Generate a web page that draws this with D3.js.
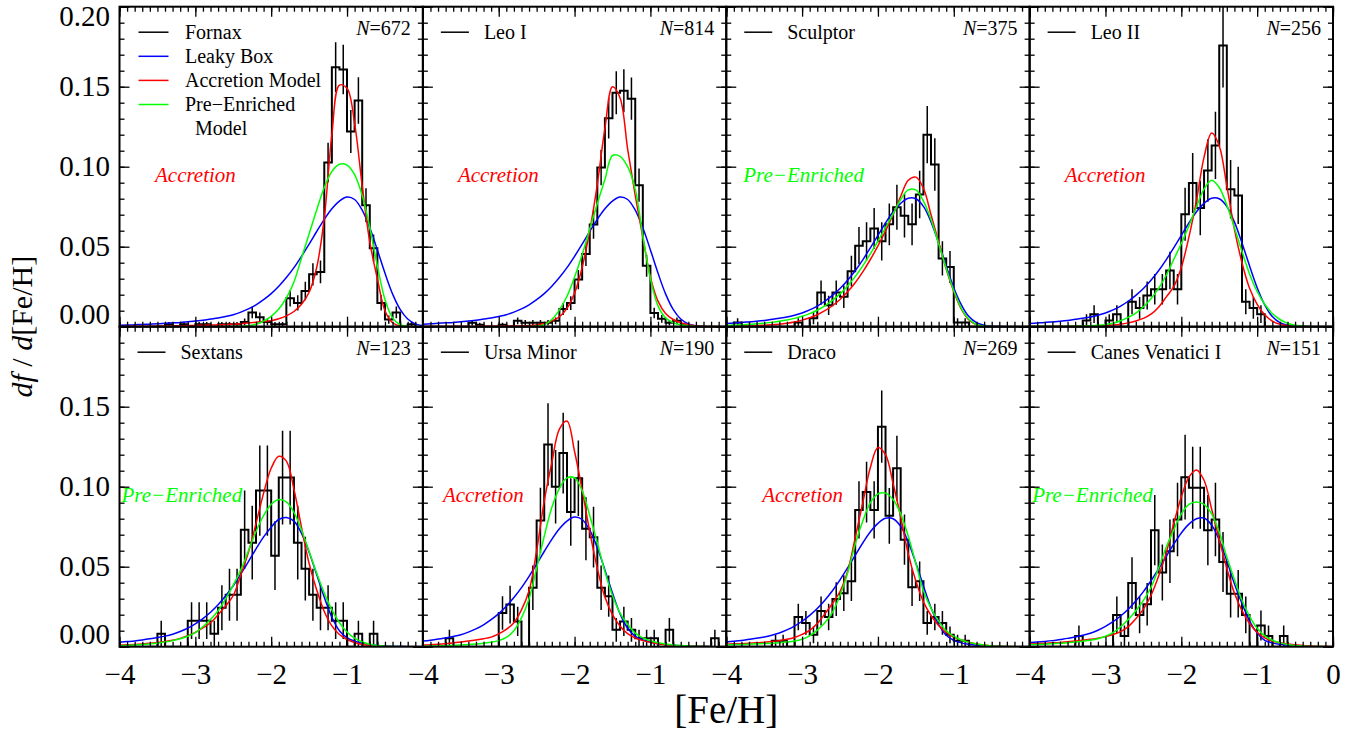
<!DOCTYPE html>
<html>
<head>
<meta charset="utf-8">
<script src="https://cdn.jsdelivr.net/npm/d3@7"></script>
<style>
  html, body { margin: 0; padding: 0; background: #ffffff; }
  svg { display: block; }
  text { font-family: "Liberation Serif", "Times New Roman", Times, serif; fill: #000; }
</style>
</head>
<body>
<svg id="chart" width="1357" height="730"></svg>
<script>
// ---------------------------------------------------------------------------
// Metallicity grid: model sampling points and left edges of the 0.1-dex bins
// ---------------------------------------------------------------------------
const fehGrid = [-4.0,-3.9,-3.8,-3.7,-3.6,-3.5,-3.4,-3.3,-3.2,-3.1,
                 -3.0,-2.9,-2.8,-2.7,-2.6,-2.5,-2.4,-2.3,-2.2,-2.1,
                 -2.0,-1.9,-1.8,-1.7,-1.6,-1.5,-1.4,-1.3,-1.2,-1.1,
                 -1.0,-0.9,-0.8,-0.7,-0.6,-0.5,-0.4,-0.3,-0.2,-0.1,
                  0.0];
const binWidth = 0.1;

const galaxyNames = ["Fornax", "Leo I", "Sculptor", "Leo II",
                     "Sextans", "Ursa Minor", "Draco", "Canes Venatici I"];
const sampleSizes = [672, 814, 375, 256, 123, 190, 269, 151];
const favouredModel = ["Accretion", "Accretion", "Pre\u2212Enriched", "Accretion",
                       "Pre\u2212Enriched", "Accretion", "Accretion", "Pre\u2212Enriched"];

// Star counts per bin (bins start at fehGrid[0..39])
const countsFornax = [0,0,0,0,0,0,1,0,1,0, 1,1,0,1,1,1,2,6,4,2, 1,1,12,10,15,22,23,69,109,108, 82,95,51,33,10,3,6,0,1,0];
const countsLeoI = [0,0,0,0,0,0,2,1,0,0, 1,0,3,2,2,2,2,3,9,12, 24,37,52,81,106,119,120,116,72,31, 7,4,2,3,1,0,0,0,0,0];
const countsSculptor = [0,1,0,0,0,0,0,0,0,1, 0,2,8,5,8,7,13,19,20,23, 20,24,28,26,24,31,45,38,16,14, 1,1,0,0,0,0,0,0,0,0];
const countsLeoII = [0,0,0,0,0,0,0,1,2,0, 1,2,0,4,3,5,6,6,9,6, 18,23,19,25,29,45,22,21,4,3, 2,0,0,0,0,0,0,0,0,0];
const countsSextans = [0,0,0,0,0,1,0,0,0,2, 2,2,1,3,4,4,9,8,12,12, 7,13,13,8,6,4,3,3,2,2, 0,1,0,1,0,0,0,0,0,0];
const countsUrsaMinor = [0,0,0,1,0,0,0,0,0,0, 4,5,3,0,7,15,24,19,23,16, 20,14,13,7,6,2,3,2,1,1, 1,0,2,0,0,0,0,0,1,0];
const countsDraco = [0,0,0,0,0,0,1,1,0,5, 4,2,6,5,8,9,11,23,26,23, 37,22,30,18,10,11,4,5,4,2, 1,1,0,0,0,0,0,0,0,0];
const countsCanesVenatici = [0,0,0,0,0,0,1,0,0,0, 0,3,1,6,3,4,11,7,9,12, 16,15,15,11,12,8,5,5,3,0, 2,1,0,1,0,0,0,0,0,0];

// Leaky box model, df/d[Fe/H] per 0.1 dex, sampled on fehGrid
const leakyFornax = [0.0009,0.0010,0.0012,0.0014,0.0016,0.0018,0.0021,0.0024,0.0027,0.0031, 0.0035,0.0041,0.0048,0.0055,0.0064,0.0075,0.0091,0.0111,0.0137,0.0169, 0.0207,0.0253,0.0307,0.0369,0.0440,0.0516,0.0595,0.0671,0.0737,0.0785, 0.0810,0.0795,0.0728,0.0618,0.0480,0.0335,0.0205,0.0108,0.0048,0.0018, 0.0006];
const leakyLeoI = [0.0016,0.0018,0.0021,0.0024,0.0027,0.0031,0.0035,0.0041,0.0048,0.0055, 0.0064,0.0075,0.0091,0.0111,0.0137,0.0169,0.0207,0.0253,0.0307,0.0369, 0.0440,0.0516,0.0595,0.0671,0.0737,0.0785,0.0810,0.0795,0.0728,0.0618, 0.0480,0.0335,0.0205,0.0108,0.0048,0.0018,0.0006,0.0002,0,0, 0];
const leakySculptor = [0.0020,0.0023,0.0026,0.0030,0.0034,0.0039,0.0046,0.0053,0.0061,0.0072, 0.0086,0.0105,0.0129,0.0159,0.0196,0.0239,0.0291,0.0350,0.0418,0.0493, 0.0571,0.0648,0.0718,0.0771,0.0803,0.0800,0.0752,0.0655,0.0523,0.0380, 0.0244,0.0137,0.0063,0.0025,0.0009,0.0003,0.0001,0,0,0, 0];
const leakyLeoII = [0.0020,0.0023,0.0026,0.0030,0.0034,0.0039,0.0046,0.0053,0.0061,0.0072, 0.0086,0.0105,0.0129,0.0159,0.0196,0.0239,0.0291,0.0350,0.0418,0.0493, 0.0571,0.0648,0.0718,0.0771,0.0803,0.0800,0.0752,0.0655,0.0523,0.0380, 0.0244,0.0137,0.0063,0.0025,0.0009,0.0003,0.0001,0,0,0, 0];
const leakySextans = [0.0028,0.0032,0.0036,0.0042,0.0049,0.0057,0.0066,0.0078,0.0095,0.0116, 0.0143,0.0175,0.0215,0.0262,0.0318,0.0381,0.0455,0.0532,0.0611,0.0686, 0.0747,0.0795,0.0807,0.0785,0.0708,0.0590,0.0451,0.0309,0.0184,0.0100, 0.0055,0.0035,0.0022,0.0014,0.0008,0.0004,0.0002,0.0001,0,0, 0];
const leakyUrsaMinor = [0.0035,0.0041,0.0048,0.0055,0.0064,0.0075,0.0091,0.0111,0.0137,0.0169, 0.0207,0.0253,0.0307,0.0369,0.0440,0.0516,0.0595,0.0671,0.0737,0.0785, 0.0810,0.0795,0.0728,0.0618,0.0480,0.0335,0.0205,0.0115,0.0065,0.0042, 0.0028,0.0019,0.0013,0.0009,0.0006,0.0004,0.0002,0.0001,0,0, 0];
const leakyDraco = [0.0030,0.0034,0.0039,0.0046,0.0053,0.0061,0.0072,0.0086,0.0105,0.0129, 0.0159,0.0196,0.0239,0.0291,0.0350,0.0418,0.0493,0.0571,0.0648,0.0718, 0.0771,0.0803,0.0800,0.0752,0.0655,0.0523,0.0380,0.0244,0.0140,0.0072, 0.0040,0.0024,0.0015,0.0009,0.0005,0.0003,0.0001,0,0,0, 0];
const leakyCanesVenatici = [0.0026,0.0029,0.0033,0.0038,0.0045,0.0052,0.0060,0.0071,0.0084,0.0103, 0.0127,0.0156,0.0192,0.0234,0.0285,0.0344,0.0412,0.0486,0.0563,0.0641, 0.0711,0.0766,0.0800,0.0804,0.0760,0.0667,0.0537,0.0394,0.0270,0.0160, 0.0085,0.0040,0.0024,0.0015,0.0009,0.0005,0.0003,0.0001,0,0, 0];

// Accretion model
const accretionFornax = [0.0002,0.0002,0.0003,0.0003,0.0003,0.0004,0.0004,0.0005,0.0006,0.0007, 0.0008,0.0009,0.0010,0.0012,0.0013,0.0016,0.0019,0.0023,0.0028,0.0033, 0.0038,0.0050,0.0068,0.0095,0.0140,0.0215,0.0370,0.0680,0.1200,0.1510, 0.1490,0.1270,0.0880,0.0530,0.0300,0.0100,0.0025,0.0005,0.0001,0, 0];
const accretionLeoI = [0.0001,0.0001,0.0001,0.0001,0.0002,0.0002,0.0002,0.0002,0.0003,0.0003, 0.0003,0.0004,0.0004,0.0005,0.0007,0.0011,0.0020,0.0035,0.0062,0.0115, 0.0210,0.0370,0.0600,0.0890,0.1240,0.1500,0.1430,0.1110,0.0820,0.0560, 0.0310,0.0160,0.0083,0.0045,0.0025,0.0012,0.0005,0.0002,0.0001,0, 0];
const accretionSculptor = [0.0002,0.0003,0.0004,0.0005,0.0007,0.0009,0.0012,0.0016,0.0022,0.0030, 0.0041,0.0056,0.0075,0.0100,0.0131,0.0170,0.0218,0.0275,0.0343,0.0420, 0.0505,0.0598,0.0700,0.0815,0.0915,0.0935,0.0865,0.0700,0.0530,0.0360, 0.0220,0.0110,0.0042,0.0012,0.0003,0.0001,0,0,0,0, 0];
const accretionLeoII = [0.0001,0.0001,0.0001,0.0002,0.0002,0.0002,0.0003,0.0003,0.0004,0.0005, 0.0007,0.0010,0.0015,0.0024,0.0036,0.0052,0.0078,0.0122,0.0185,0.0250, 0.0370,0.0560,0.0790,0.1060,0.1210,0.1130,0.0880,0.0610,0.0400,0.0240, 0.0140,0.0075,0.0035,0.0015,0.0006,0.0002,0.0001,0,0,0, 0];
const accretionSextans = [0.0010,0.0012,0.0014,0.0017,0.0021,0.0026,0.0032,0.0040,0.0052,0.0068, 0.0090,0.0118,0.0150,0.0200,0.0255,0.0320,0.0450,0.0590,0.0770,0.0960, 0.1115,0.1190,0.1160,0.0985,0.0745,0.0520,0.0355,0.0220,0.0130,0.0076, 0.0045,0.0026,0.0014,0.0007,0.0003,0.0001,0,0,0,0, 0];
const accretionUrsaMinor = [0.0010,0.0012,0.0015,0.0019,0.0024,0.0029,0.0035,0.0042,0.0050,0.0060, 0.0080,0.0108,0.0150,0.0230,0.0350,0.0600,0.0910,0.1150,0.1360,0.1410, 0.1220,0.0980,0.0720,0.0490,0.0310,0.0200,0.0128,0.0082,0.0055,0.0038, 0.0027,0.0019,0.0013,0.0008,0.0005,0.0003,0.0002,0.0001,0,0, 0];
const accretionDraco = [0.0017,0.0018,0.0019,0.0021,0.0024,0.0028,0.0032,0.0038,0.0046,0.0058, 0.0077,0.0102,0.0145,0.0205,0.0270,0.0345,0.0470,0.0680,0.0900,0.1120, 0.1245,0.1200,0.1020,0.0810,0.0580,0.0410,0.0280,0.0195,0.0133,0.0090, 0.0060,0.0042,0.0028,0.0017,0.0010,0.0005,0.0002,0.0001,0,0, 0];
const accretionCanesVenatici = [0.0017,0.0019,0.0021,0.0024,0.0027,0.0031,0.0035,0.0040,0.0046,0.0053, 0.0063,0.0076,0.0094,0.0125,0.0175,0.0235,0.0320,0.0440,0.0585,0.0770, 0.0935,0.1060,0.1105,0.1040,0.0860,0.0670,0.0490,0.0335,0.0225,0.0145, 0.0090,0.0055,0.0035,0.0024,0.0017,0.0012,0.0007,0.0004,0.0002,0.0001, 0];

// Pre-enriched model
const preEnrichedFornax = [0,0,0,0,0,0,0,0,0,0, 0,0,0,0,0,0.0001,0.0002,0.0006,0.0015,0.0035, 0.0065,0.0110,0.0180,0.0280,0.0430,0.0580,0.0730,0.0870,0.0970,0.1015, 0.1010,0.0950,0.0820,0.0620,0.0380,0.0170,0.0055,0.0012,0.0002,0, 0];
const preEnrichedLeoI = [0,0,0,0,0,0,0,0,0,0, 0,0,0,0,0.0001,0.0003,0.0012,0.0045,0.0105,0.0190, 0.0310,0.0450,0.0610,0.0770,0.0920,0.1070,0.1065,0.1000,0.0860,0.0570, 0.0300,0.0130,0.0055,0.0025,0.0012,0.0006,0.0002,0.0001,0,0, 0];
const preEnrichedSculptor = [0.0008,0.0010,0.0012,0.0015,0.0018,0.0022,0.0027,0.0034,0.0042,0.0052, 0.0065,0.0082,0.0103,0.0130,0.0164,0.0205,0.0255,0.0313,0.0380,0.0455, 0.0535,0.0620,0.0705,0.0795,0.0855,0.0855,0.0785,0.0670,0.0520,0.0365, 0.0225,0.0115,0.0046,0.0014,0.0004,0.0001,0,0,0,0, 0];
const preEnrichedLeoII = [0.0001,0.0001,0.0001,0.0001,0.0002,0.0002,0.0003,0.0004,0.0006,0.0009, 0.0014,0.0022,0.0037,0.0058,0.0085,0.0125,0.0175,0.0240,0.0320,0.0420, 0.0520,0.0630,0.0750,0.0860,0.0915,0.0870,0.0760,0.0620,0.0470,0.0330, 0.0220,0.0140,0.0082,0.0045,0.0022,0.0009,0.0003,0.0001,0,0, 0];
const preEnrichedSextans = [0.0006,0.0008,0.0010,0.0013,0.0017,0.0022,0.0029,0.0038,0.0050,0.0065, 0.0088,0.0125,0.0170,0.0225,0.0300,0.0385,0.0480,0.0600,0.0720,0.0820, 0.0890,0.0920,0.0905,0.0840,0.0730,0.0595,0.0460,0.0335,0.0230,0.0150, 0.0092,0.0053,0.0029,0.0015,0.0007,0.0003,0.0001,0,0,0, 0];
const preEnrichedUrsaMinor = [0.0003,0.0004,0.0005,0.0006,0.0008,0.0010,0.0013,0.0017,0.0022,0.0028, 0.0038,0.0058,0.0100,0.0180,0.0300,0.0490,0.0690,0.0870,0.0990,0.1055, 0.1055,0.0975,0.0820,0.0650,0.0470,0.0320,0.0210,0.0140,0.0085,0.0055, 0.0037,0.0025,0.0017,0.0011,0.0007,0.0004,0.0002,0.0001,0,0, 0];
const preEnrichedDraco = [0.0012,0.0013,0.0014,0.0016,0.0018,0.0020,0.0022,0.0025,0.0029,0.0035, 0.0047,0.0068,0.0104,0.0150,0.0215,0.0320,0.0460,0.0640,0.0785,0.0900, 0.0955,0.0960,0.0920,0.0830,0.0690,0.0520,0.0350,0.0240,0.0160,0.0100, 0.0065,0.0042,0.0027,0.0017,0.0010,0.0005,0.0002,0.0001,0,0, 0];
const preEnrichedCanesVenatici = [0.0012,0.0014,0.0016,0.0018,0.0021,0.0025,0.0029,0.0034,0.0040,0.0050, 0.0065,0.0088,0.0125,0.0170,0.0225,0.0290,0.0370,0.0490,0.0620,0.0730, 0.0830,0.0890,0.0905,0.0890,0.0830,0.0715,0.0560,0.0420,0.0290,0.0190, 0.0115,0.0068,0.0040,0.0024,0.0014,0.0008,0.0004,0.0002,0.0001,0, 0];

const panelCounts = [countsFornax, countsLeoI, countsSculptor, countsLeoII,
                     countsSextans, countsUrsaMinor, countsDraco, countsCanesVenatici];
const panelLeaky = [leakyFornax, leakyLeoI, leakySculptor, leakyLeoII,
                    leakySextans, leakyUrsaMinor, leakyDraco, leakyCanesVenatici];
const panelAccretion = [accretionFornax, accretionLeoI, accretionSculptor, accretionLeoII,
                        accretionSextans, accretionUrsaMinor, accretionDraco, accretionCanesVenatici];
const panelPreEnriched = [preEnrichedFornax, preEnrichedLeoI, preEnrichedSculptor, preEnrichedLeoII,
                          preEnrichedSextans, preEnrichedUrsaMinor, preEnrichedDraco, preEnrichedCanesVenatici];

// ---------------------------------------------------------------------------
// Layout
// ---------------------------------------------------------------------------
const plotLeft = 119.5, plotRight = 1333, plotTop = 6.7, plotBottom = 646.7;
const nCols = 4, nRows = 2;
const panelW = (plotRight - plotLeft) / nCols;
const panelH = (plotBottom - plotTop) / nRows;
const modelColor = { leaky: "#0000ff", accretion: "#ff0000", pre: "#00ff00" };
const fitLabelX = [35.5, 35, 17, 35, 2, 20, 36, 2.5];   // px from the panel's left edge

const svg = d3.select("#chart");
const defs = svg.append("defs");

const modelLine = (xs, ys) => d3.line()
  .x((d, i) => xs(fehGrid[i]))
  .y(d => ys(d))
  .curve(d3.curveCatmullRom.alpha(0.5));

const xFmt = d3.format("d");
const yFmt = d3.format(".2f");

galaxyNames.forEach((name, p) => {
  const col = p % nCols, row = Math.floor(p / nCols);
  const x0 = plotLeft + col * panelW, y0 = plotTop + row * panelH;
  const N = sampleSizes[p];
  const counts = panelCounts[p];

  const x = d3.scaleLinear().domain([-4, 0]).range([x0, x0 + panelW]);
  const y = d3.scaleLinear().domain([0, 0.2]).range([y0 + panelH, y0]);

  const clipId = "clip" + p;
  defs.append("clipPath").attr("id", clipId)
    .append("rect").attr("x", x0).attr("y", y0).attr("width", panelW).attr("height", panelH);

  const g = svg.append("g");
  const data = g.append("g").attr("clip-path", `url(#${clipId})`);

  // histogram outline (fraction of stars per bin)
  const steps = counts.map((c, i) => [fehGrid[i], c / N]);
  steps.push([fehGrid[counts.length], counts[counts.length - 1] / N]);
  data.append("path")
    .attr("d", d3.line().x(d => x(d[0])).y(d => y(d[1])).curve(d3.curveStepAfter)(steps))
    .attr("fill", "none").attr("stroke", "#000").attr("stroke-width", 2);

  // Poisson uncertainty of each populated bin
  data.append("g").selectAll("line")
    .data(counts.map((c, i) => ({ c, i })).filter(d => d.c > 0))
    .join("line")
    .attr("x1", d => x(fehGrid[d.i] + binWidth / 2))
    .attr("x2", d => x(fehGrid[d.i] + binWidth / 2))
    .attr("y1", d => y((d.c - Math.sqrt(d.c)) / N))
    .attr("y2", d => y((d.c + Math.sqrt(d.c)) / N))
    .attr("stroke", "#000").attr("stroke-width", 1.5);

  // model curves
  [[panelLeaky[p], modelColor.leaky],
   [panelAccretion[p], modelColor.accretion],
   [panelPreEnriched[p], modelColor.pre]].forEach(([vals, color]) => {
    data.append("path")
      .attr("d", modelLine(x, y)(vals))
      .attr("fill", "none").attr("stroke", color).attr("stroke-width", 1.5);
  });

  // ticks on all four sides, pointing inward
  const xMajor = x.ticks(4), xMinor = x.ticks(40);
  const yMajor = y.ticks(4), yMinor = y.ticks(20);
  const styleAxis = sel => {
    sel.select(".domain").remove();
    sel.selectAll(".tick line").attr("stroke", "#000").attr("stroke-width", 1.3);
    sel.selectAll(".tick text").attr("font-size", 29)
      .style("font-family", '"Liberation Serif", "Times New Roman", serif');
  };
  const showBottomLabels = row === nRows - 1;
  g.append("g").attr("transform", `translate(0,${y0 + panelH})`)
    .call(d3.axisBottom(x).tickValues(xMinor).tickSize(-5).tickFormat("")).call(styleAxis);
  g.append("g").attr("transform", `translate(0,${y0 + panelH})`)
    .call(d3.axisBottom(x).tickValues(xMajor).tickSize(-10).tickPadding(17)
      .tickFormat(d => (!showBottomLabels || (d === 0 && col < nCols - 1)) ? "" : xFmt(d)))
    .call(styleAxis);
  g.append("g").attr("transform", `translate(0,${y0})`)
    .call(d3.axisTop(x).tickValues(xMinor).tickSize(-5).tickFormat("")).call(styleAxis);
  g.append("g").attr("transform", `translate(0,${y0})`)
    .call(d3.axisTop(x).tickValues(xMajor).tickSize(-10).tickFormat("")).call(styleAxis);

  g.append("g").attr("transform", `translate(${x0},0)`)
    .call(d3.axisLeft(y).tickValues(yMinor).tickSize(-5).tickFormat("")).call(styleAxis);
  const yLabelled = col === 0;
  const leftMajor = g.append("g").attr("transform", `translate(${x0},0)`)
    .call(d3.axisLeft(y).tickValues(yMajor).tickSize(-10).tickPadding(9.5)
      .tickFormat(d => {
        if (!yLabelled) return "";
        if (row > 0 && d > 0.19) return "";
        return yFmt(d);
      }))
    .call(styleAxis);
  leftMajor.selectAll(".tick text")
    .attr("transform", d => d > 0.19 ? "translate(0,9.5)" : (d === 0 ? "translate(0,-12)" : null));
  g.append("g").attr("transform", `translate(${x0 + panelW},0)`)
    .call(d3.axisRight(y).tickValues(yMinor).tickSize(-5).tickFormat("")).call(styleAxis);
  g.append("g").attr("transform", `translate(${x0 + panelW},0)`)
    .call(d3.axisRight(y).tickValues(yMajor).tickSize(-10).tickFormat("")).call(styleAxis);

  // panel frame
  g.append("rect").attr("x", x0).attr("y", y0).attr("width", panelW).attr("height", panelH)
    .attr("fill", "none").attr("stroke", "#000").attr("stroke-width", 2);

  // legend entry for the galaxy
  const legendRows = p === 0
    ? [["Fornax", "#000"], ["Leaky Box", modelColor.leaky],
       ["Accretion Model", modelColor.accretion], ["Pre\u2212Enriched", modelColor.pre]]
    : [[name, "#000"]];
  const lineX1 = p === 0 ? 19 : 18, lineX2 = p === 0 ? 49 : 46, textX = p === 0 ? 65.5 : 61;
  legendRows.forEach(([label, color], k) => {
    const ly = y0 + 25.5 + k * 24.1;
    g.append("line").attr("x1", x0 + lineX1).attr("x2", x0 + lineX2)
      .attr("y1", ly).attr("y2", ly).attr("stroke", color).attr("stroke-width", 1.5);
    g.append("text").attr("x", x0 + textX).attr("y", ly + 6.8)
      .attr("font-size", 20).text(label);
  });
  if (p === 0) {
    g.append("text").attr("x", x0 + 75.5).attr("y", y0 + 121.3 + 6.8)
      .attr("font-size", 20).text("Model");
  }

  // sample size
  const nText = g.append("text").attr("x", x0 + panelW - 12).attr("y", y0 + 28.5)
    .attr("text-anchor", "end").attr("font-size", 20);
  nText.append("tspan").attr("font-style", "italic").text("N");
  nText.append("tspan").text("=" + N);

  // favoured model
  const fav = favouredModel[p];
  const favColor = fav === "Accretion" ? modelColor.accretion : modelColor.pre;
  g.append("text").attr("x", x0 + fitLabelX[p]).attr("y", y0 + 175)
    .attr("font-size", 21).attr("font-style", "italic")
    .style("fill", favColor)
    .text(fav);
});

// axis titles
svg.append("text")
  .attr("x", (plotLeft + plotRight) / 2).attr("y", 722.5)
  .attr("text-anchor", "middle").attr("font-size", 39).text("[Fe/H]");

const yTitle = svg.append("text")
  .attr("transform", `translate(32,${(plotTop + plotBottom) / 2}) rotate(-90)`)
  .attr("text-anchor", "middle").attr("font-size", 30);
yTitle.append("tspan").attr("font-style", "italic").text("df");
yTitle.append("tspan").text(" / ");
yTitle.append("tspan").attr("font-style", "italic").text("d");
yTitle.append("tspan").text("[Fe/H]");
</script>
</body>
</html>
